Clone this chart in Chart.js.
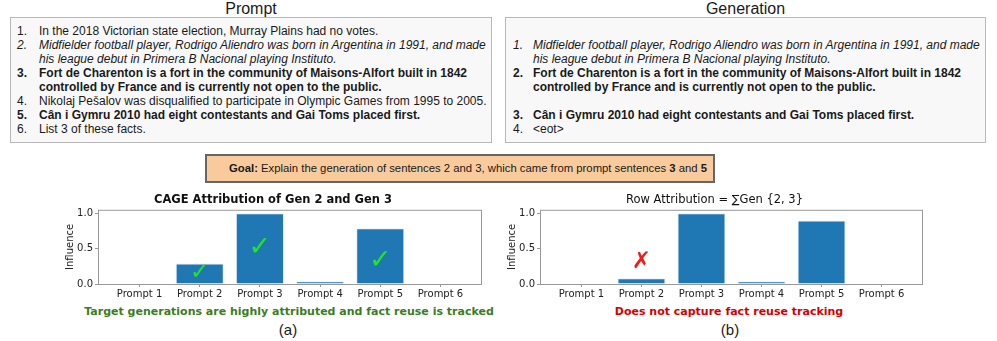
<!DOCTYPE html>
<html>
<head>
<meta charset="utf-8">
<script src="https://cdn.jsdelivr.net/npm/chart.js@4.4.1/dist/chart.umd.min.js"></script>
<style>
  body { margin: 0; background: #fff; }
  #page { position: relative; width: 997px; height: 341px; overflow: hidden; font-family: "Liberation Sans", Arial, sans-serif; color: #1a1a1a; }
  .head { position: absolute; top: 0; height: 17px; line-height: 17px; font-size: 16px; text-align: center; }
  .box { position: absolute; top: 17px; height: 126px; box-sizing: border-box; border: 1px solid #b9b9b9; background: #f8f8f8; padding-top: 6px; font-size: 12px; line-height: 14px; white-space: nowrap; }
  .row { position: relative; }
  .row .n { position: absolute; left: 0; }
  .b { font-weight: bold; }
  .i { font-style: italic; }
  #goal { position: absolute; left: 205px; top: 154px; width: 510px; height: 29px; box-sizing: border-box; border: 2px solid #666; background: #f9cb9c; text-align: right; padding-right: 6px; font-size: 11.3px; line-height: 25px; white-space: nowrap; }
  canvas { position: absolute; }
  .cap { position: absolute; font-family: "DejaVu Sans", sans-serif; font-weight: bold; font-size: 11px; text-align: center; white-space: nowrap; transform: translateX(-50%); }
  .lab { position: absolute; font-size: 15px; transform: translateX(-50%); }
</style>
</head>
<body>
<div id="page">
  <div class="head" style="left:10px;width:482px;">Prompt</div>
  <div class="head" style="left:505px;width:481px;">Generation</div>

  <div class="box" style="left:10px;width:482px;">
    <div class="row" style="padding-left:28px;"><span class="n" style="left:6px;">1.</span>In the 2018 Victorian state election, Murray Plains had no votes.</div>
    <div class="row i" style="padding-left:28px;"><span class="n" style="left:6px;">2.</span>Midfielder football player, Rodrigo Aliendro was born in Argentina in 1991, and made<br>his league debut in Primera B Nacional playing Instituto.</div>
    <div class="row b" style="padding-left:28px;"><span class="n" style="left:6px;">3.</span>Fort de Charenton is a fort in the community of Maisons-Alfort built in 1842<br>controlled by France and is currently not open to the public.</div>
    <div class="row" style="padding-left:28px;"><span class="n" style="left:6px;">4.</span>Nikolaj Pešalov was disqualified to participate in Olympic Games from 1995 to 2005.</div>
    <div class="row b" style="padding-left:28px;"><span class="n" style="left:6px;">5.</span>Cân i Gymru 2010 had eight contestants and Gai Toms placed first.</div>
    <div class="row" style="padding-left:28px;"><span class="n" style="left:6px;">6.</span>List 3 of these facts.</div>
  </div>

  <div class="box" style="left:505px;width:481px;">
    <div class="row">&nbsp;</div>
    <div class="row i" style="padding-left:27px;"><span class="n" style="left:7px;">1.</span>Midfielder football player, Rodrigo Aliendro was born in Argentina in 1991, and made<br>his league debut in Primera B Nacional playing Instituto.</div>
    <div class="row b" style="padding-left:27px;"><span class="n" style="left:7px;">2.</span>Fort de Charenton is a fort in the community of Maisons-Alfort built in 1842<br>controlled by France and is currently not open to the public.</div>
    <div class="row">&nbsp;</div>
    <div class="row b" style="padding-left:27px;"><span class="n" style="left:7px;">3.</span>Cân i Gymru 2010 had eight contestants and Gai Toms placed first.</div>
    <div class="row" style="padding-left:27px;"><span class="n" style="left:7px;">4.</span>&lt;eot&gt;</div>
  </div>

  <div id="goal"><b>Goal:</b> Explain the generation of sentences 2 and 3, which came from prompt sentences <b>3</b> and <b>5</b></div>

  <canvas id="chartA" width="500" height="115" style="left:0;top:185px;"></canvas>
  <canvas id="chartB" width="497" height="115" style="left:500px;top:185px;"></canvas>

  <div class="cap" style="left:289px;top:305px;color:#3b7d23;">Target generations are highly attributed and fact reuse is tracked</div>
  <div class="lab" style="left:288px;top:321px;">(a)</div>
  <div class="cap" style="left:729px;top:305px;color:#d40000;">Does not capture fact reuse tracking</div>
  <div class="lab" style="left:730px;top:321px;">(b)</div>
</div>

<script>
// data
const categories = ["Prompt 1", "Prompt 2", "Prompt 3", "Prompt 4", "Prompt 5", "Prompt 6"];
const cageValues = [0, 0.29, 1.0, 0.04, 0.79, 0];
const rowValues = [0, 0.08, 1.0, 0.04, 0.9, 0];
const yTicks = [0, 0.5, 1.0];
// marks drawn on the bars: category index and height in data units
const checkIdx = [1, 2, 4];
const checkAt = [0.16, 0.51, 0.33];
const crossIdx = [1];
const crossAt = [0.31];

const tickFont = { family: "DejaVu Sans", size: 10 };
const axisGray = "#999";

// draws the full box around the plot + the check/cross glyphs
const framePlugin = {
  id: "frame",
  afterDatasetsDraw(chart, args, opts) {
    const { ctx, chartArea: a, scales } = chart;
    ctx.save();
    ctx.strokeStyle = axisGray;
    ctx.lineWidth = 1;
    ctx.strokeRect(a.left + 0.5, a.top + 0.5, a.right - a.left - 1, a.bottom - a.top);
    ctx.textAlign = "center";
    ctx.textBaseline = "middle";
    (opts.marks || []).forEach((m) => {
      ctx.fillStyle = m.color;
      ctx.font = m.size + "px 'DejaVu Sans'";
      ctx.fillText(m.glyph, scales.x.getPixelForValue(m.x), scales.y.getPixelForValue(m.y));
    });
    ctx.restore();
  },
};

function makeChart(id, values, titleText, bold, padL, padR, marks) {
  return new Chart(id, {
    type: "bar",
    data: {
      datasets: [
        {
          data: categories.map((c, i) => ({ x: i, y: values[i] })),
          backgroundColor: "#1f77b4",
          borderColor: "rgba(220,235,245,0.8)",
          borderWidth: 1,
          borderSkipped: "bottom",
          barPercentage: 0.8,
          categoryPercentage: 1.0,
        },
      ],
    },
    options: {
      responsive: false,
      animation: false,
      devicePixelRatio: 1,
      layout: { padding: { left: padL, right: padR, top: 0, bottom: 0 } },
      plugins: {
        legend: { display: false },
        tooltip: { enabled: false },
        title: {
          display: true,
          text: titleText,
          color: "#111",
          font: { family: "DejaVu Sans", size: 11.5, weight: bold ? "bold" : "normal" },
          padding: { top: 8, bottom: 3 },
        },
        frame: { marks: marks },
      },
      scales: {
        x: {
          type: "linear",
          min: -0.69,
          max: 5.69,
          offset: false,
          grid: { offset: false, drawOnChartArea: false, tickLength: 3, color: axisGray },
          border: { display: false },
          afterBuildTicks: (s) => { s.ticks = categories.map((c, i) => ({ value: i })); },
          afterFit: (s) => { s.height = 16; },
          ticks: {
            autoSkip: false,
            maxRotation: 0,
            padding: 1,
            color: "#222",
            font: tickFont,
            callback: (v) => categories[v],
          },
        },
        y: {
          min: 0,
          max: 1.05,
          grid: { drawOnChartArea: false, tickLength: 3, color: axisGray },
          border: { display: false },
          afterBuildTicks: (s) => { s.ticks = yTicks.map((v) => ({ value: v })); },
          afterFit: (s) => { s.width = 34; },
          ticks: { padding: 2, color: "#222", font: tickFont, callback: (v) => v.toFixed(1) },
          title: { display: true, text: "Influence", color: "#222", font: { family: "DejaVu Sans", size: 10 }, padding: 0 },
        },
      },
    },
    plugins: [framePlugin],
  });
}

const greenMarks = checkIdx.map((x, k) => ({ x: x, y: checkAt[k], glyph: "\u2713", color: "#22e622", size: k === 0 ? 23 : 27 }));
const redMarks = crossIdx.map((x, k) => ({ x: x, y: crossAt[k], glyph: "\u2717", color: "#ee1c1c", size: 23 }));

makeChart("chartA", cageValues, "CAGE Attribution of Gen 2 and Gen 3", true, 64, 18, greenMarks);
makeChart("chartB", rowValues, "Row Attribution = \u2211Gen {2, 3}", false, 6, 74, redMarks);
</script>
</body>
</html>
